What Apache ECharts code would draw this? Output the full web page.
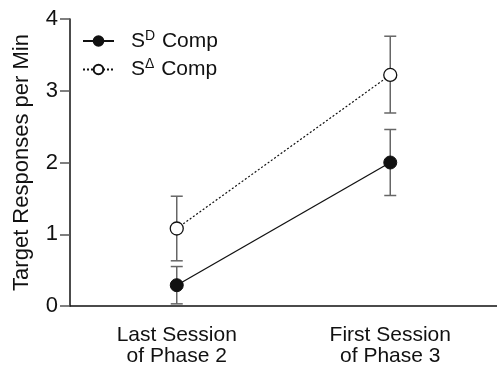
<!DOCTYPE html>
<html>
<head>
<meta charset="utf-8">
<script src="https://cdn.jsdelivr.net/npm/echarts@6/dist/echarts.min.js"></script>
<style>
  html, body { margin: 0; padding: 0; background: #fff; }
  #main { width: 497px; height: 367px; }
</style>
</head>
<body>
<div id="main"></div>
<script>
var categories = ['Last Session\nof Phase 2', 'First Session\nof Phase 3'];
var sdMean = [0.29, 2.0];
var sdLow = [0.03, 1.54];
var sdHigh = [0.55, 2.46];
var sdeltaMean = [1.08, 3.22];
var sdeltaLow = [0.63, 2.69];
var sdeltaHigh = [1.53, 3.76];
var yTicks = [0, 1, 2, 3, 4];

var font = 'Liberation Sans, Arial, sans-serif';

function errData(low, high) {
    var out = [];
    for (var i = 0; i < low.length; i++) out.push([i, low[i], high[i]]);
    return out;
}

// whiskers with caps
function renderErr(params, api) {
    var lo = api.coord([api.value(0), api.value(1)]);
    var hi = api.coord([api.value(0), api.value(2)]);
    var w = 6;
    var style = { stroke: '#666', lineWidth: 1.5 };
    return {
        type: 'group',
        children: [
            { type: 'line', shape: { x1: lo[0], y1: lo[1], x2: hi[0], y2: hi[1] }, style: style },
            { type: 'line', shape: { x1: lo[0] - w, y1: lo[1], x2: lo[0] + w, y2: lo[1] }, style: style },
            { type: 'line', shape: { x1: hi[0] - w, y1: hi[1], x2: hi[0] + w, y2: hi[1] }, style: style }
        ]
    };
}

var chart = echarts.init(document.getElementById('main'));
chart.setOption({
    animation: false,
    textStyle: { fontFamily: font },
    grid: { left: 70, right: 0, top: 19, bottom: 61 },
    legend: {
        orient: 'vertical',
        left: 82,
        top: 29,
        padding: 0,
        itemWidth: 31,
        itemHeight: 12,
        itemGap: 6,
        data: ['SD Comp', 'SΔ Comp'],
        formatter: function (name) {
            return name === 'SD Comp' ? 'S{sup|D} Comp' : 'S{sup|Δ} Comp';
        },
        textStyle: {
            fontSize: 21,
            color: '#111',
            fontFamily: font,
            padding: [0, 0, 0, 12],
            rich: {
                sup: { fontSize: 14, verticalAlign: 'top', padding: [0, 1, 10, 0], fontFamily: font, color: '#111' }
            }
        }
    },
    xAxis: {
        type: 'category',
        data: categories,
        axisLine: { lineStyle: { color: '#111', width: 1.5 } },
        axisTick: { alignWithLabel: true, length: 10, lineStyle: { color: '#555', width: 1.5 } },
        axisLabel: { fontSize: 21, color: '#111', lineHeight: 21, margin: 19, fontFamily: font }
    },
    yAxis: {
        type: 'value',
        min: yTicks[0],
        max: yTicks[yTicks.length - 1],
        interval: 1,
        name: 'Target Responses per Min',
        nameLocation: 'middle',
        nameGap: 37,
        nameTextStyle: { fontSize: 22, color: '#111', fontFamily: font },
        axisLine: { show: true, lineStyle: { color: '#111', width: 1.5 } },
        axisTick: { show: true, length: 10, lineStyle: { color: '#555', width: 1.5 } },
        axisLabel: { fontSize: 22, color: '#111', margin: 12, fontFamily: font },
        splitLine: { show: false }
    },
    series: [
        {
            type: 'custom',
            renderItem: renderErr,
            data: errData(sdLow, sdHigh),
            encode: { x: 0, y: [1, 2] },
            z: 1,
            silent: true
        },
        {
            type: 'custom',
            renderItem: renderErr,
            data: errData(sdeltaLow, sdeltaHigh),
            encode: { x: 0, y: [1, 2] },
            z: 1,
            silent: true
        },
        {
            name: 'SD Comp',
            type: 'line',
            data: sdMean,
            symbol: 'circle',
            symbolSize: 13,
            lineStyle: { color: '#111', width: 1.3 },
            itemStyle: { color: '#111', borderColor: '#111', borderWidth: 1 },
            z: 3
        },
        {
            name: 'SΔ Comp',
            type: 'line',
            data: sdeltaMean,
            symbol: 'circle',
            symbolSize: 13,
            lineStyle: { color: '#111', width: 1.2, type: [2, 2] },
            itemStyle: { color: '#fff', borderColor: '#111', borderWidth: 1.3 },
            z: 3
        }
    ]
});
</script>
</body>
</html>
